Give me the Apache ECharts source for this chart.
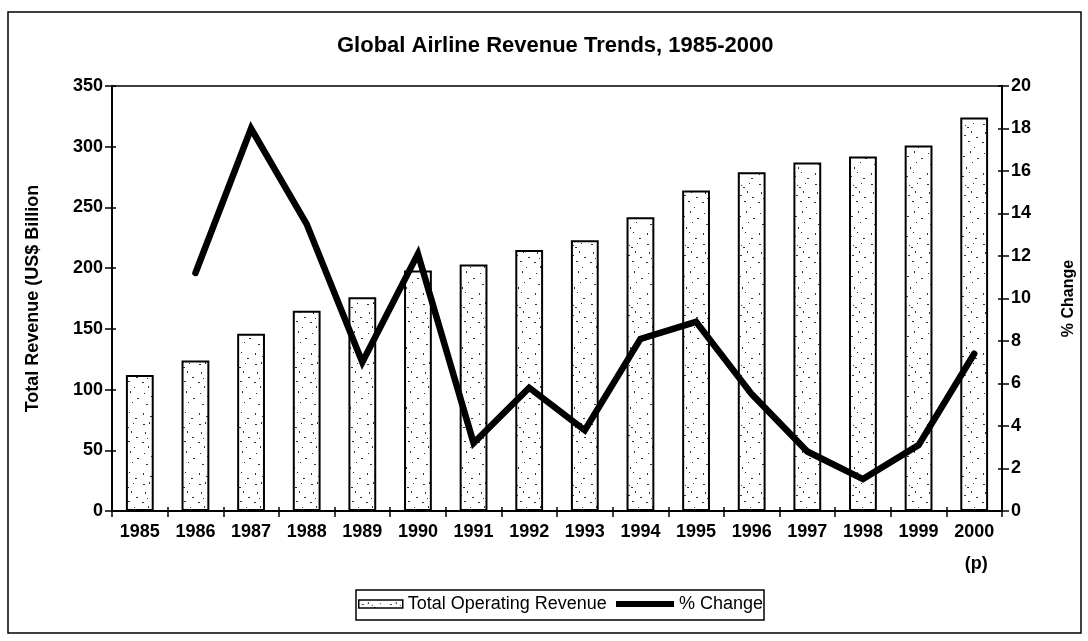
<!DOCTYPE html>
<html>
<head>
<meta charset="utf-8">
<title>Global Airline Revenue Trends, 1985-2000</title>
<script src="https://cdn.jsdelivr.net/npm/echarts@6/dist/echarts.min.js"></script>
<style>
  html, body { margin: 0; padding: 0; background: #fff; }
  #chart { width: 1088px; height: 641px; }
</style>
</head>
<body>
<div id="chart"></div>
<script>
// Years on the category axis
const years = ['1985','1986','1987','1988','1989','1990','1991','1992',
               '1993','1994','1995','1996','1997','1998','1999','2000'];
// Total operating revenue, US$ billion
const revenue = [112, 124, 146, 165, 176, 198, 203, 215,
                 223, 242, 264, 279, 287, 292, 301, 324];
// Year-on-year change, percent (no value for the first year)
const pctChange = [null, 11.2, 18.0, 13.5, 7.0, 12.1, 3.2, 5.8,
                   3.8, 8.1, 8.9, 5.5, 2.8, 1.5, 3.1, 7.4];
// Axis tick settings
const revenueTicks = { min: 0, max: 350, interval: 50 };
const pctTicks = { min: 0, max: 20, interval: 2 };

// Speckled fill for the bars, drawn once into a small tile
const specks = [
  [3,4,2,1],[9,2,1,2],[15,7,2,1],[21,3,1,1],[5,12,1,2],[12,15,2,1],[19,11,1,2],
  [24,17,2,1],[2,22,2,1],[8,26,1,2],[16,21,2,1],[22,27,1,1],[4,33,1,1],[11,36,2,1],
  [18,31,1,2],[25,38,2,1],[6,44,2,1],[14,47,1,2],[20,42,1,1],[3,53,1,2],[10,56,2,1],
  [17,52,1,1],[23,58,2,1],[13,5,1,1],[7,18,1,1]
];
const tile = document.createElement('canvas');
tile.width = 28; tile.height = 60;
const tctx = tile.getContext('2d');
tctx.fillStyle = '#fff';
tctx.fillRect(0, 0, tile.width, tile.height);
tctx.fillStyle = 'rgba(0,0,0,0.8)';
specks.forEach(s => tctx.fillRect(s[0], s[1], s[2], s[3]));

const font = '"Liberation Sans", Arial, sans-serif';
const tickFont = { fontFamily: font, fontSize: 18, fontWeight: 'bold', color: '#000' };
const legendText = { fontFamily: font, fontSize: 18, color: '#000' };
const chart = echarts.init(document.getElementById('chart'));

chart.setOption({
  backgroundColor: '#fff',
  animation: false,
  textStyle: { fontFamily: font, color: '#000' },
  title: {
    text: 'Global Airline Revenue Trends, 1985-2000',
    left: 332,
    top: 30,
    textStyle: { fontFamily: font, fontSize: 22, fontWeight: 'bold', color: '#000' }
  },
  graphic: [{
    // outer frame
    type: 'rect',
    shape: { x: 8, y: 12, width: 1073, height: 621 },
    style: { fill: 'none', stroke: '#000', lineWidth: 1.5 },
    silent: true
  }, {
    // legend box
    type: 'rect',
    shape: { x: 356, y: 590, width: 408, height: 30 },
    style: { fill: 'none', stroke: '#000', lineWidth: 1.5 },
    silent: true,
    z: 10
  }],
  legend: [{
    left: 358,
    top: 595,
    padding: 0,
    itemWidth: 44,
    itemHeight: 8,
    icon: 'rect',
    itemStyle: { borderWidth: 1.5 },
    textStyle: legendText,
    data: ['Total Operating Revenue']
  }, {
    left: 616,
    top: 595,
    padding: 0,
    itemWidth: 58,
    itemHeight: 6,
    icon: 'rect',
    textStyle: legendText,
    data: ['% Change']
  }],
  grid: {
    left: 112, right: 86, top: 86, bottom: 130,
    show: true, borderColor: '#000', borderWidth: 1.5, backgroundColor: 'transparent'
  },
  xAxis: [{
    type: 'category',
    data: years,
    axisLine: { lineStyle: { color: '#000', width: 2 } },
    axisTick: { show: true, length: 6, lineStyle: { color: '#000', width: 1.5 } },
    axisLabel: Object.assign({
      interval: 0,
      hideOverlap: false,
      margin: 5,
      lineHeight: 32,
      formatter: v => v === '2000' ? '2000\n{p|(p)}' : v,
      rich: { p: Object.assign({ lineHeight: 32, padding: [0, 0, 0, 4] }, tickFont) }
    }, tickFont)
  }, {
    type: 'category',
    position: 'bottom',
    data: years,
    axisLine: { show: false },
    axisTick: { show: true, inside: true, length: 4, lineStyle: { color: '#000', width: 1.5 } },
    axisLabel: { show: false }
  }],
  yAxis: [{
    type: 'value',
    position: 'left',
    min: revenueTicks.min, max: revenueTicks.max, interval: revenueTicks.interval,
    name: 'Total Revenue (US$ Billion',
    nameLocation: 'middle',
    nameGap: 70,
    nameTextStyle: tickFont,
    splitLine: { show: false },
    axisLine: { show: true, lineStyle: { color: '#000', width: 2 } },
    axisTick: { show: true, length: 7, lineStyle: { color: '#000', width: 1.5 } },
    axisLabel: Object.assign({ margin: 9 }, tickFont)
  }, {
    type: 'value',
    position: 'right',
    min: pctTicks.min, max: pctTicks.max, interval: pctTicks.interval,
    name: '% Change',
    nameLocation: 'middle',
    nameGap: 59,
    nameRotate: 90,
    nameTextStyle: Object.assign({}, tickFont, { fontSize: 16 }),
    splitLine: { show: false },
    axisLine: { show: true, lineStyle: { color: '#000', width: 2 } },
    axisTick: { show: true, length: 7, lineStyle: { color: '#000', width: 1.5 } },
    axisLabel: Object.assign({ margin: 9 }, tickFont)
  }, {
    type: 'value',
    position: 'left',
    min: revenueTicks.min, max: revenueTicks.max, interval: revenueTicks.interval,
    splitLine: { show: false },
    axisLine: { show: false },
    axisTick: { show: true, inside: true, length: 4, lineStyle: { color: '#000', width: 1.5 } },
    axisLabel: { show: false }
  }, {
    type: 'value',
    position: 'right',
    min: pctTicks.min, max: pctTicks.max, interval: pctTicks.interval,
    splitLine: { show: false },
    axisLine: { show: false },
    axisTick: { show: true, inside: true, length: 4, lineStyle: { color: '#000', width: 1.5 } },
    axisLabel: { show: false }
  }],
  series: [{
    name: 'Total Operating Revenue',
    type: 'bar',
    xAxisIndex: 0,
    yAxisIndex: 0,
    data: revenue,
    barCategoryGap: '50%',
    itemStyle: {
      color: { image: tile, repeat: 'repeat' },
      borderColor: '#000',
      borderWidth: 2
    },
    z: 2
  }, {
    name: '% Change',
    type: 'line',
    xAxisIndex: 0,
    yAxisIndex: 1,
    data: pctChange,
    symbol: 'none',
    connectNulls: false,
    lineStyle: { color: '#000', width: 6.5, cap: 'round', join: 'miter' },
    itemStyle: { color: '#000' },
    z: 3
  }]
});
</script>
</body>
</html>
